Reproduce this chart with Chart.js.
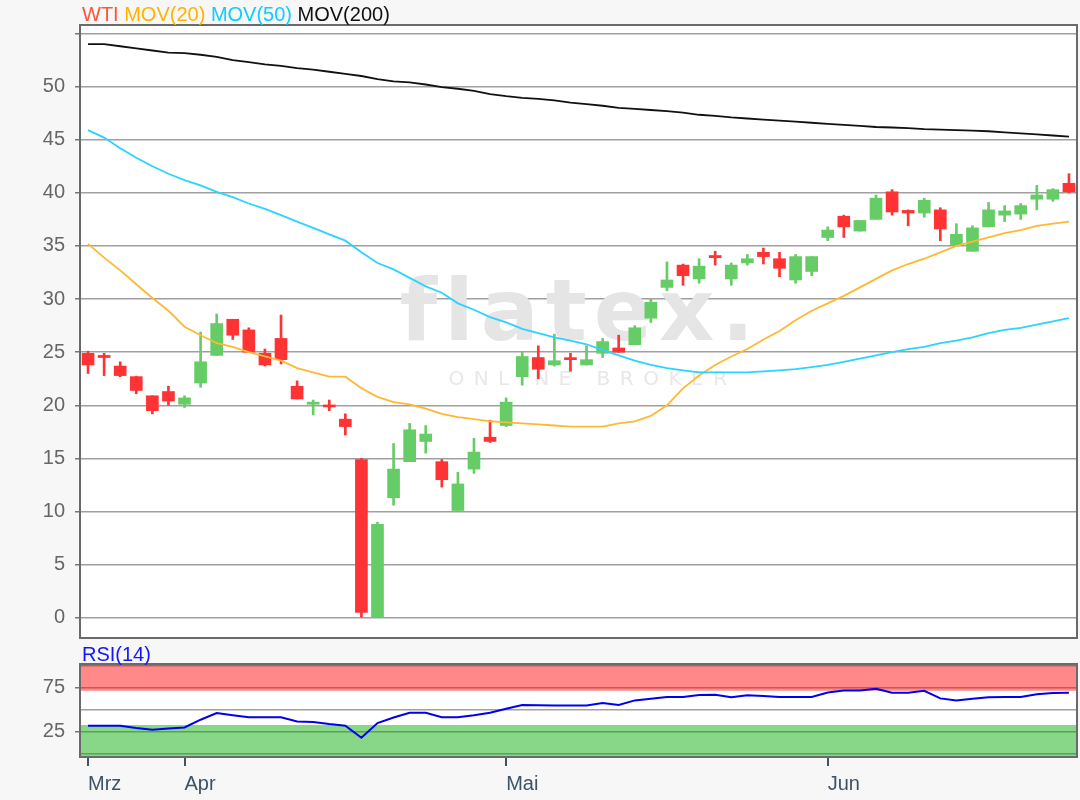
<!DOCTYPE html>
<html>
<head>
<meta charset="utf-8">
<script src="https://cdn.jsdelivr.net/npm/chart.js@4.4.1/dist/chart.umd.min.js"></script>
<style>
  html, body { margin: 0; padding: 0; background: #f7f7f7; }
  #wrap { position: relative; width: 1080px; height: 800px; }
  #main { position: absolute; left: 0; top: 0; }
  #rsi { position: absolute; left: 0; top: 645px; }
</style>
</head>
<body>
<div id="wrap">
  <canvas id="main" width="1080" height="645"></canvas>
  <canvas id="rsi" width="1080" height="155"></canvas>
</div>
<script>
// Kursdaten WTI (Tageskerzen)
const open  = [24.9, 24.7, 23.7, 22.7, 20.9, 21.3, 20.1, 22.1, 24.7, 28.1, 27.1, 24.9, 26.3, 21.8, 20.1, 20.0,
               18.7, 14.9, 0.0, 11.3, 14.7, 16.6, 14.7, 10.1, 14.0, 17.0, 18.1, 22.7, 24.5, 23.8, 24.45, 23.8,
               24.9, 25.4, 25.7, 28.2, 31.1, 33.2, 31.9, 34.1, 31.9, 33.4, 34.4, 33.8, 31.8, 32.6, 35.8, 37.8,
               36.4, 37.5, 40.1, 38.35, 38.1, 38.4, 35.1, 34.5, 36.8, 37.9, 38.0, 39.4, 39.4, 40.9];
const high  = [25.1, 24.9, 24.1, 22.75, 20.9, 21.8, 20.9, 26.9, 28.6, 28.1, 27.3, 25.3, 28.5, 22.3, 20.5, 20.5,
               19.2, 15.0, 9.0, 16.4, 18.3, 18.1, 14.9, 13.7, 16.9, 18.6, 20.7, 25.0, 25.6, 26.7, 24.9, 25.6,
               26.3, 26.6, 27.5, 30.0, 33.5, 33.3, 33.8, 34.5, 33.4, 34.2, 34.8, 34.4, 34.2, 34.0, 36.8, 37.9,
               37.4, 39.8, 40.3, 38.4, 39.5, 38.6, 37.1, 36.9, 39.1, 38.8, 39.0, 40.7, 40.4, 41.8];
const low   = [23.0, 22.8, 22.7, 21.1, 19.2, 20.0, 19.8, 21.7, 24.7, 26.2, 25.0, 23.7, 23.9, 20.6, 19.1, 19.5,
               17.2, 0.05, 0.0, 10.6, 14.7, 15.5, 12.3, 10.1, 13.6, 16.5, 18.0, 21.9, 22.5, 23.7, 23.2, 23.8,
               24.5, 25.0, 25.7, 27.8, 30.8, 31.3, 31.5, 33.2, 31.3, 33.2, 33.3, 32.1, 31.5, 32.2, 35.5, 35.8,
               36.4, 37.5, 37.9, 36.9, 37.7, 35.5, 35.0, 34.5, 36.8, 37.3, 37.5, 38.4, 39.2, 40.0];
const close = [23.8, 24.5, 22.8, 21.4, 19.5, 20.4, 20.7, 24.1, 27.7, 26.6, 25.0, 23.8, 24.3, 20.6, 20.3, 19.85,
               18.0, 0.5, 8.8, 14.0, 17.7, 17.3, 13.0, 12.6, 15.6, 16.6, 20.3, 24.6, 23.4, 24.2, 24.3, 24.3,
               26.0, 25.0, 27.3, 29.7, 31.8, 32.2, 33.1, 33.9, 33.2, 33.8, 34.0, 32.9, 34.0, 34.0, 36.5, 36.8,
               37.4, 39.5, 38.2, 38.1, 39.3, 36.6, 36.1, 36.7, 38.4, 38.3, 38.8, 39.8, 40.3, 40.1];

// gleitende Durchschnitte
const mov20  = [35.2, 33.9, 32.7, 31.4, 30.1, 28.9, 27.4, 26.6, 25.85, 25.5, 25.0, 24.6, 24.2, 23.5, 23.1, 22.7,
                22.7, 21.6, 20.8, 20.3, 20.1, 19.7, 19.2, 18.9, 18.7, 18.5, 18.4, 18.3, 18.2, 18.1, 18.0, 18.0,
                18.0, 18.3, 18.5, 19.0, 20.0, 21.6, 22.8, 23.8, 24.6, 25.3, 26.2, 27.0, 28.0, 28.9, 29.6, 30.3,
                31.1, 31.9, 32.7, 33.3, 33.8, 34.4, 35.0, 35.4, 35.8, 36.2, 36.5, 36.9, 37.1, 37.3];
const mov50  = [45.9, 45.2, 44.2, 43.3, 42.5, 41.8, 41.2, 40.7, 40.1, 39.6, 39.0, 38.5, 37.9, 37.3, 36.7, 36.1,
                35.5, 34.4, 33.4, 32.8, 32.0, 31.2, 30.6, 29.6, 29.0, 28.3, 27.8, 27.2, 26.8, 26.4, 26.1, 25.75,
                25.2, 24.7, 24.2, 23.8, 23.5, 23.3, 23.1, 23.1, 23.1, 23.1, 23.2, 23.3, 23.4, 23.6, 23.8, 24.1,
                24.4, 24.7, 25.0, 25.3, 25.5, 25.85, 26.1, 26.4, 26.8, 27.1, 27.3, 27.6, 27.9, 28.2];
const mov200 = [54.0, 54.0, 53.8, 53.6, 53.4, 53.2, 53.15, 53.0, 52.8, 52.5, 52.3, 52.1, 51.95, 51.75, 51.6, 51.4,
                51.2, 51.0, 50.7, 50.5, 50.4, 50.2, 49.95, 49.8, 49.6, 49.3, 49.1, 48.95, 48.85, 48.7, 48.5, 48.35,
                48.2, 48.0, 47.9, 47.8, 47.7, 47.55, 47.35, 47.25, 47.1, 47.0, 46.9, 46.8, 46.7, 46.6, 46.5, 46.4,
                46.3, 46.2, 46.15, 46.1, 46.0, 45.95, 45.9, 45.85, 45.8, 45.7, 45.6, 45.5, 45.4, 45.3];

// RSI(14)
const rsi14 = [31.6, 31.6, 31.6, 29.0, 27.0, 28.5, 29.7, 38.5, 46.0, 43.5, 41.3, 41.3, 41.3, 36.6, 36.0, 33.5,
               31.6, 18.0, 34.7, 41.0, 46.3, 46.3, 41.3, 41.3, 43.5, 46.5, 51.0, 55.2, 55.0, 54.8, 54.8, 54.8,
               57.5, 55.2, 60.5, 62.5, 64.5, 64.5, 66.8, 66.9, 64.1, 66.5, 65.5, 64.5, 64.5, 64.5, 69.5, 71.7,
               71.9, 73.8, 69.2, 69.2, 71.5, 62.8, 60.3, 62.3, 64.2, 64.3, 64.5, 67.5, 69.0, 69.2];

// Achsen
const monthIdx = [0, 6, 26, 46];
const monthNames = ['Mrz', 'Apr', 'Mai', 'Jun'];
const priceTicks = [0, 5, 10, 15, 20, 25, 30, 35, 40, 45, 50, 55];
const rsiTicks = [0, 25, 50, 75, 100];
const rsiLabeled = [25, 75];

const seriesNames = ['WTI', 'MOV(20)', 'MOV(50)', 'MOV(200)'];
const seriesColors = ['#ff5533', '#ffb300', '#11ccff', '#111111'];

const UP = '#66cc66', DOWN = '#ff3333';
const FONT = '"Liberation Sans", Arial, sans-serif';

Chart.defaults.font.family = FONT;
Chart.defaults.animation = false;

const days = open.map((_, i) => i);
const candleColors = open.map((o, i) => close[i] >= o ? UP : DOWN);

// weisser Plotbereich + Rahmen
const frame = {
    id: 'frame',
    beforeDraw(chart) {
        const { ctx, chartArea: a } = chart;
        ctx.save();
        ctx.fillStyle = '#ffffff';
        ctx.fillRect(a.left, a.top, a.right - a.left, a.bottom - a.top);
        ctx.restore();
    },
    afterDraw(chart) {
        const { ctx, chartArea: a } = chart;
        ctx.save();
        ctx.strokeStyle = '#6a6a6a';
        ctx.lineWidth = 2;
        ctx.strokeRect(a.left, a.top, a.right - a.left, a.bottom - a.top);
        ctx.restore();
    }
};

// Wasserzeichen
const watermark = {
    id: 'watermark',
    beforeDatasetsDraw(chart) {
        const { ctx, chartArea: a } = chart;
        const cx = (a.left + a.right) / 2;
        const cy = (a.top + a.bottom) / 2;
        ctx.save();
        ctx.textAlign = 'center';
        ctx.textBaseline = 'alphabetic';
        ctx.fillStyle = '#e5e5e5';
        ctx.font = 'bold 86px "DejaVu Sans", sans-serif';
        ctx.letterSpacing = '7px';
        ctx.fillText('flatex.', cx + 2, cy + 8);
        ctx.fillStyle = '#e8e8e8';
        ctx.font = '20px "DejaVu Sans", sans-serif';
        ctx.letterSpacing = '9.5px';
        ctx.fillText('ONLINE BROKER', cx + 14, cy + 53);
        ctx.restore();
    }
};

// farbige Legende oben
const legendText = {
    id: 'legendText',
    afterDraw(chart) {
        const ctx = chart.ctx;
        ctx.save();
        ctx.font = '20px ' + FONT;
        ctx.textBaseline = 'alphabetic';
        let x = 82;
        seriesNames.forEach((name, i) => {
            ctx.fillStyle = seriesColors[i];
            ctx.fillText(name, x, 21);
            x += ctx.measureText(name + ' ').width;
        });
        ctx.restore();
    }
};

new Chart(document.getElementById('main'), {
    type: 'bar',
    data: {
        labels: days,
        datasets: [
            { type: 'line', data: mov200, borderColor: '#111111', borderWidth: 1.8, pointRadius: 0, order: 0 },
            { type: 'line', data: mov50, borderColor: '#2cd3ff', borderWidth: 1.8, pointRadius: 0, order: 0 },
            { type: 'line', data: mov20, borderColor: '#ffb833', borderWidth: 1.8, pointRadius: 0, order: 0 },
            {
                data: open.map((o, i) => [o, close[i]]),
                backgroundColor: candleColors,
                barThickness: 12, minBarLength: 2, grouped: false, order: 1
            },
            {
                data: low.map((l, i) => [l, high[i]]),
                backgroundColor: candleColors,
                barThickness: 2, grouped: false, order: 2
            }
        ]
    },
    options: {
        responsive: false,
        devicePixelRatio: 1,
        layout: { padding: { top: 25, right: 3, bottom: 7, left: 0 } },
        plugins: { legend: { display: false }, tooltip: { enabled: false } },
        scales: {
            x: { type: 'category', offset: true, display: false },
            y: {
                min: -1.9,
                max: 55.8,
                afterBuildTicks: s => { s.ticks = priceTicks.map(v => ({ value: v })); },
                afterFit: s => { s.width = 80; s.paddingTop = 0; s.paddingBottom = 0; },
                ticks: {
                    color: '#666666',
                    font: { size: 20 },
                    padding: 10,
                    autoSkip: false,
                    callback: v => v === 55 ? '' : v
                },
                grid: { color: '#a0a0a0', lineWidth: 1.5, tickLength: 5, tickColor: '#777777' },
                border: { display: false }
            }
        }
    },
    plugins: [frame, watermark, legendText]
});

// RSI-Zonen
const rsiBands = {
    id: 'rsiBands',
    beforeDatasetsDraw(chart) {
        const { ctx, chartArea: a, scales: { y } } = chart;
        ctx.save();
        ctx.fillStyle = 'rgba(255, 0, 0, 0.467)';
        ctx.fillRect(a.left, a.top, a.right - a.left, y.getPixelForValue(71.5) - a.top);
        ctx.fillStyle = 'rgba(0, 170, 0, 0.467)';
        const g = y.getPixelForValue(32.5);
        ctx.fillRect(a.left, g, a.right - a.left, a.bottom - g);
        ctx.restore();
    },
    afterDraw(chart) {
        const ctx = chart.ctx;
        ctx.save();
        ctx.font = '20px ' + FONT;
        ctx.fillStyle = '#1414ff';
        ctx.textBaseline = 'alphabetic';
        ctx.fillText('RSI(14)', 82, 16);
        ctx.restore();
    }
};

new Chart(document.getElementById('rsi'), {
    type: 'line',
    data: {
        labels: days,
        datasets: [
            { data: rsi14, borderColor: '#0000ee', borderWidth: 2, pointRadius: 0 }
        ]
    },
    options: {
        responsive: false,
        devicePixelRatio: 1,
        layout: { padding: { top: 19, right: 3, bottom: 0, left: 0 } },
        plugins: { legend: { display: false }, tooltip: { enabled: false } },
        scales: {
            x: {
                type: 'category',
                offset: true,
                afterBuildTicks: s => { s.ticks = s.ticks.filter(t => monthIdx.includes(t.value)); },
                afterFit: s => { s.height = 43; s.paddingLeft = 0; s.paddingRight = 0; },
                ticks: {
                    color: '#3d5368',
                    font: { size: 20 },
                    align: 'start',
                    maxRotation: 0,
                    autoSkip: false,
                    padding: 6,
                    callback: v => monthNames[monthIdx.indexOf(v)]
                },
                grid: { drawOnChartArea: false, tickLength: 9, tickColor: '#3d5368', lineWidth: 2 },
                border: { display: false }
            },
            y: {
                min: -4,
                max: 102,
                afterBuildTicks: s => { s.ticks = rsiTicks.map(v => ({ value: v })); },
                afterFit: s => { s.width = 80; s.paddingTop = 0; s.paddingBottom = 0; },
                ticks: {
                    color: '#666666',
                    font: { size: 20 },
                    padding: 10,
                    autoSkip: false,
                    callback: v => rsiLabeled.includes(v) ? v : ''
                },
                grid: {
                    color: '#a0a0a0',
                    lineWidth: 1.5,
                    tickLength: 5,
                    tickColor: c => rsiLabeled.includes(c.tick && c.tick.value) ? '#777777' : 'rgba(0,0,0,0)'
                },
                border: { display: false }
            }
        }
    },
    plugins: [frame, rsiBands]
});
</script>
</body>
</html>
